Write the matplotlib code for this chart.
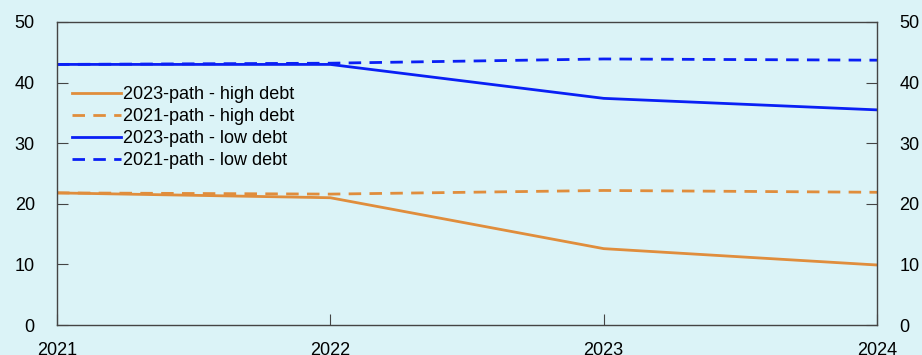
import matplotlib.pyplot as plt

# Data
years = [2021, 2022, 2023, 2024]
high_2023 = [21.8, 21.0, 12.6, 9.9]
high_2021 = [21.8, 21.6, 22.2, 21.9]
low_2023 = [43.0, 43.0, 37.4, 35.5]
low_2021 = [43.0, 43.2, 43.9, 43.7]

plt.rcParams['font.family'] = ['Liberation Sans', 'DejaVu Sans']

bg = '#dbf3f7'
orange = '#e08d3c'
blue = '#0a1ff5'
dash = (0, (4.5, 3))

fig = plt.figure(figsize=(9.22, 3.55), dpi=100, facecolor=bg)
ax = fig.add_axes([57 / 922, 30 / 355, 820 / 922, 303 / 355])
ax.set_facecolor(bg)

ax.plot(years, high_2023, color=orange, lw=2, label='2023-path - high debt')
ax.plot(years, high_2021, color=orange, lw=2, ls=dash, label='2021-path - high debt')
ax.plot(years, low_2023, color=blue, lw=2, label='2023-path - low debt')
ax.plot(years, low_2021, color=blue, lw=2, ls=dash, label='2021-path - low debt')

ax.set_xlim(2021, 2024)
ax.set_ylim(0, 50)
ax.set_xticks(years)
ax.set_yticks(range(0, 51, 10))
ax.tick_params(axis='both', direction='in', length=8, color='#444444', labelsize=13,
               right=True, labelright=True)
ax.tick_params(axis='x', pad=12)
ax.tick_params(axis='y', pad=16)
for s in ax.spines.values():
    s.set_color('#444444')
    s.set_linewidth(1)

ax.legend(loc='upper left', bbox_to_anchor=(15 / 820, 0.788), frameon=False, fontsize=13,
          handlelength=2.7, handletextpad=0.1, labelspacing=0.28, borderaxespad=0,
          borderpad=0)

fig.savefig('out.png', dpi=100, facecolor=bg)
